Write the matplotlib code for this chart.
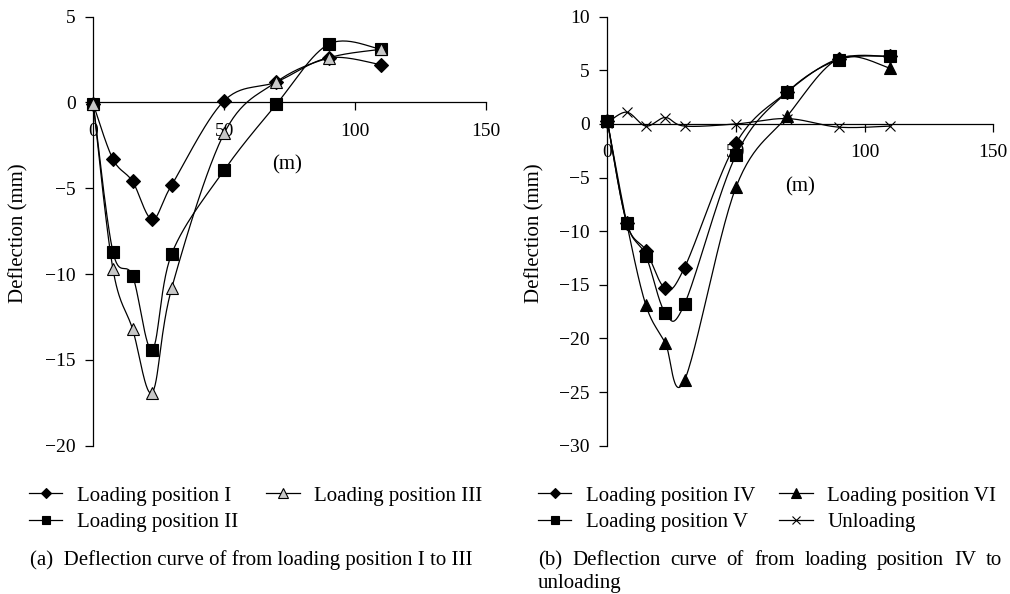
import numpy as np
import matplotlib
matplotlib.use("Agg")
import matplotlib.pyplot as plt
from matplotlib.lines import Line2D

plt.rcParams['font.family'] = ['Liberation Serif', 'DejaVu Serif']

# distance along the bridge (m)
distance = [0, 7.5, 15, 22.5, 30, 50, 70, 90, 110]

# panel (a): loading position I to III, deflection in mm
pos_1 = [-0.1, -3.3, -4.6, -6.8, -4.8, 0.1, 1.2, 2.6, 2.2]
pos_2 = [-0.1, -8.7, -10.1, -14.4, -8.8, -3.95, -0.1, 3.4, 3.1]
pos_3 = [-0.1, -9.7, -13.2, -16.9, -10.8, -1.8, 1.2, 2.6, 3.1]

# panel (b): loading position IV to unloading
pos_4 = [0.3, -9.2, -11.8, -15.3, -13.4, -1.8, 3.0, 6.1, 6.3]
pos_5 = [0.3, -9.2, -12.3, -17.6, -16.8, -2.9, 3.0, 6.0, 6.3]
pos_6 = [0.3, -9.2, -16.9, -20.4, -23.9, -5.9, 0.75, 6.1, 5.2]
unload = [0.1, 1.1, -0.2, 0.6, -0.2, 0.0, 0.5, -0.3, -0.2]

FS = 14     # tick labels
TFS = 15    # legend, captions, axis labels


def smooth(x, y, n=30):
    """excel style smoothed line (bezier through the points)"""
    P = np.column_stack([x, y]).astype(float)
    Q = np.vstack([P[:1], P, P[-1:]])
    t = np.linspace(0, 1, n)[:, None]
    out = []
    for i in range(len(P) - 1):
        p0, p3 = Q[i + 1], Q[i + 2]
        c1 = p0 + (Q[i + 2] - Q[i]) / 6
        c2 = p3 - (Q[i + 3] - Q[i + 1]) / 6
        seg = ((1 - t) ** 3) * p0 + 3 * ((1 - t) ** 2) * t * c1 + 3 * (1 - t) * t ** 2 * c2 + t ** 3 * p3
        out.append(seg if i == 0 else seg[1:])
    out = np.vstack(out)
    return out[:, 0], out[:, 1]


def draw(ax, y, marker, ms, face):
    sx, sy = smooth(distance, y)
    ax.plot(sx, sy, color='black', lw=0.9, clip_on=False, zorder=3)
    ax.plot(distance, y, ls='none', marker=marker, ms=ms, mfc=face, mec='black',
            mew=0.8, clip_on=False, zorder=4)
    return Line2D([], [], color='black', lw=0.9, marker=marker, ms=ms * 0.75,
                  mfc=face, mec='black', mew=0.8)


def style(ax, ylim, yticks):
    ax.set_xlim(0, 150)
    ax.set_ylim(*ylim)
    ax.set_xticks([0, 50, 100, 150])
    ax.set_yticks(yticks)
    ax.spines['top'].set_visible(False)
    ax.spines['right'].set_visible(False)
    ax.spines['bottom'].set_position(('data', 0))
    for s in ['left', 'bottom']:
        ax.spines[s].set_linewidth(0.9)
    ax.tick_params(axis='both', direction='out', length=6, width=0.9, labelsize=FS)
    ax.tick_params(axis='x', pad=8.5)
    ax.tick_params(axis='y', pad=6.5)
    ax.set_ylabel('Deflection (mm)', fontsize=TFS)
    ax.yaxis.set_label_coords(-0.164, 0.495)
    ax.set_xlabel('(m)', fontsize=TFS)


fig = plt.figure(figsize=(10.1, 5.94), dpi=100)
ax1 = fig.add_axes([93.3 / 1010, 1 - 445.7 / 594, 392.4 / 1010, 429 / 594])
ax2 = fig.add_axes([607.3 / 1010, 1 - 445.7 / 594, 386 / 1010, 429 / 594])

h1 = draw(ax1, pos_1, 'D', 7, 'black')
h2 = draw(ax1, pos_2, 's', 8, 'black')
h3 = draw(ax1, pos_3, '^', 9, '#c8c8c8')
style(ax1, (-20, 5), range(-20, 6, 5))
ax1.xaxis.set_label_coords(0.494, 0.678)

h4 = draw(ax2, pos_4, 'D', 7, 'black')
h5 = draw(ax2, pos_5, 's', 8, 'black')
h6 = draw(ax2, pos_6, '^', 9, 'black')
h7 = draw(ax2, unload, 'x', 7, 'black')
style(ax2, (-30, 10), range(-30, 11, 5))
ax2.xaxis.set_label_coords(0.499, 0.626)

leg_kw = dict(ncol=2, loc='upper left', frameon=False, borderaxespad=0, borderpad=0,
              handlelength=1.6, handletextpad=0.7, labelspacing=0.35, fontsize=TFS)
fig.legend([h1, h2, h3], ['Loading position I', 'Loading position II', 'Loading position III'],
           bbox_to_anchor=(29 / 1010, 1 - 486 / 594), columnspacing=1.35, **leg_kw)
fig.legend([h4, h5, h6, h7],
           ['Loading position IV', 'Loading position V', 'Loading position VI', 'Unloading'],
           bbox_to_anchor=(538 / 1010, 1 - 486 / 594), columnspacing=1.15, **leg_kw)

# captions
base1 = 1 - 565 / 594
fig.text(30 / 1010, base1, '(a)  Deflection curve of from loading position I to III',
         fontsize=TFS, va='baseline')

# justified first line of caption (b)
words = '(b) Deflection curve of from loading position IV to'.split()
renderer = fig.canvas.get_renderer()
texts = [fig.text(0, base1, w, fontsize=TFS, va='baseline') for w in words]
widths = [t.get_window_extent(renderer).width for t in texts]
x0, x1 = 538, 1002
gap = (x1 - x0 - sum(widths)) / (len(words) - 1)
xpos = x0
for t, w in zip(texts, widths):
    t.set_x(xpos / 1010)
    xpos += w + gap
fig.text(538 / 1010, 1 - 588 / 594, 'unloading', fontsize=TFS, va='baseline')

fig.savefig('out.png', dpi=100)
